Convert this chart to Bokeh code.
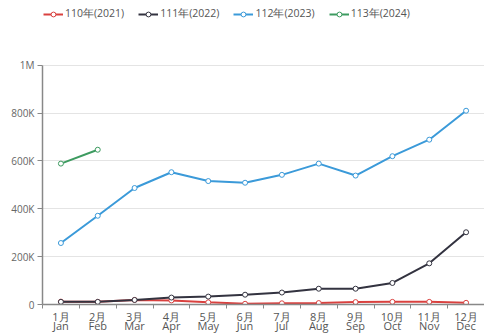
from bokeh.plotting import figure
from bokeh.models import FixedTicker, Legend, LegendItem, Range1d
from bokeh.embed import file_html
from bokeh.resources import INLINE

months = list(range(1, 13))
month_labels = ["1月\nJan", "2月\nFeb", "3月\nMar", "4月\nApr", "5月\nMay", "6月\nJun",
                "7月\nJul", "8月\nAug", "9月\nSep", "10月\nOct", "11月\nNov", "12月\nDec"]
y_ticks = [0, 200000, 400000, 600000, 800000, 1000000]
y_tick_labels = ["0", "200K", "400K", "600K", "800K", "1M"]

s2021 = [12000, 11000, 19000, 17000, 9000, 3000, 5000, 6000, 10000, 11000, 11000, 7000]
s2022 = [11000, 11000, 19000, 29000, 33000, 41000, 50000, 66000, 66000, 90000, 172000, 302000]
s2023 = [257000, 371000, 487000, 553000, 516000, 509000, 542000, 589000, 539000, 620000, 689000, 810000]
s2024 = [589000, 647000]

names = ["110年(2021)", "111年(2022)", "112年(2023)", "113年(2024)"]
colors = ["#d9413f", "#333340", "#3b9ad9", "#3d9b60"]
series = [s2021, s2022, s2023, s2024]

# frame spans from the top of the canvas; values above 1M hold the legend area
y_max = 1000000
y_top = y_max * 305 / 240

p = figure(width=484, height=336, output_backend="svg", toolbar_location=None,
           x_range=Range1d(0.5, 12.5), y_range=Range1d(0, y_top),
           min_border_left=42, min_border_right=0, min_border_bottom=0, min_border_top=0,
           outline_line_color=None)

items = []
for name, col, data in zip(names, colors, series):
    xs = months[:len(data)]
    r1 = p.line(xs, data, line_color=col, line_width=2)
    r2 = p.scatter(xs, data, size=5, fill_color="white", line_color=col, line_width=1)
    items.append(LegendItem(label=name, renderers=[r1, r2]))

legend = Legend(items=items, orientation="horizontal", location=(1, 283),
                label_text_font="Open Sans", label_text_font_size="10.5px",
                label_text_color="#555555", glyph_width=20, glyph_height=12,
                label_standoff=2, spacing=14, border_line_color=None,
                background_fill_alpha=0, padding=0, margin=0)
p.add_layout(legend, "center")

p.xaxis.ticker = FixedTicker(ticks=months, minor_ticks=[m + 0.5 for m in range(0, 13)])
p.xaxis.major_label_overrides = {m: l for m, l in zip(months, month_labels)}
p.xaxis.major_tick_out = 0
p.xaxis.major_tick_in = 0
p.xaxis.minor_tick_out = 4
p.xaxis.minor_tick_in = 0
p.xaxis.major_label_text_font = "Open Sans"
p.xaxis.major_label_text_font_size = "11px"
p.xaxis.major_label_text_line_height = 0.65
p.xaxis.major_label_text_color = "#555555"
p.xaxis.major_label_standoff = 0
p.xaxis.axis_line_color = "#888888"
p.xaxis.axis_line_width = 1.5
p.xaxis.minor_tick_line_color = "#888888"

p.yaxis.bounds = (0, y_max)
p.yaxis.ticker = FixedTicker(ticks=y_ticks, minor_ticks=[])
p.yaxis.major_label_overrides = {t: l for t, l in zip(y_ticks, y_tick_labels)}
p.yaxis.major_tick_out = 5
p.yaxis.major_tick_in = 0
p.yaxis.major_label_text_font = "Open Sans"
p.yaxis.major_label_text_font_size = "10px"
p.yaxis.major_label_text_color = "#666666"
p.yaxis.major_label_standoff = 3
p.yaxis.axis_line_color = "#888888"
p.yaxis.axis_line_width = 1.5
p.yaxis.major_tick_line_color = "#888888"

p.xgrid.grid_line_color = None
p.ygrid.ticker = FixedTicker(ticks=y_ticks)
p.ygrid.grid_line_color = "#e4e4e4"
p.ygrid.grid_line_width = 1

open("out.html", "w").write(file_html(p, INLINE))
